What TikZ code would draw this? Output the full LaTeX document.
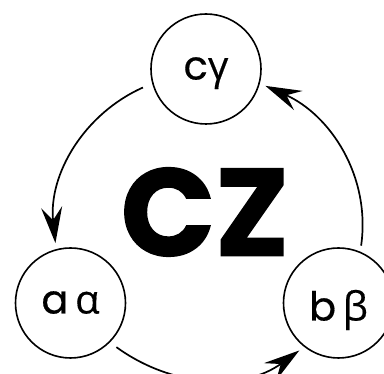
\documentclass[tikz,border=0pt]{standalone}
\usepackage{fontspec}
\setmainfont{Poppins}[FakeBold=0.4]
\newfontfamily\greekfont{Open Sans}[FakeBold=0.4]
\newfontfamily\czfont{Poppins Bold}[FakeBold=1.2]
\usetikzlibrary{arrows.meta}

\begin{document}
\begin{tikzpicture}[x=1pt, y=1pt, >={Stealth[length=36pt, width=21pt, inset=13pt]},
  state/.style={circle, draw, line width=1.6pt, minimum size=110pt, inner sep=0pt,
    text height=21pt, text depth=0pt, font=\fontsize{40}{40}\selectfont},
  trans/.style={->, line width=1.7pt}]
\useasboundingbox (0,0) rectangle (384,374);
\node [state] (c) at (206,305) {c{\greekfont γ}};
\node [state] (a) at (70.5,71) {a\,{\greekfont α}};
\node [state, text height=35pt] (b) at (338.5,71) {b\,{\greekfont β}};
\node (cz) at (205,162) {\fontsize{124}{124}\selectfont\czfont CZ};
\draw [trans, shorten <=10pt, shorten >=6pt] (c.195) to [out=204, in=96] (a.105);
\draw [trans, shorten <=8pt, shorten >=6pt] (a.315) to [out=324, in=216] (b.232);
\draw [trans, shorten <=6pt, shorten >=6pt] (b.67) to [out=82, in=336] (c.345);
\end{tikzpicture}
\end{document}
